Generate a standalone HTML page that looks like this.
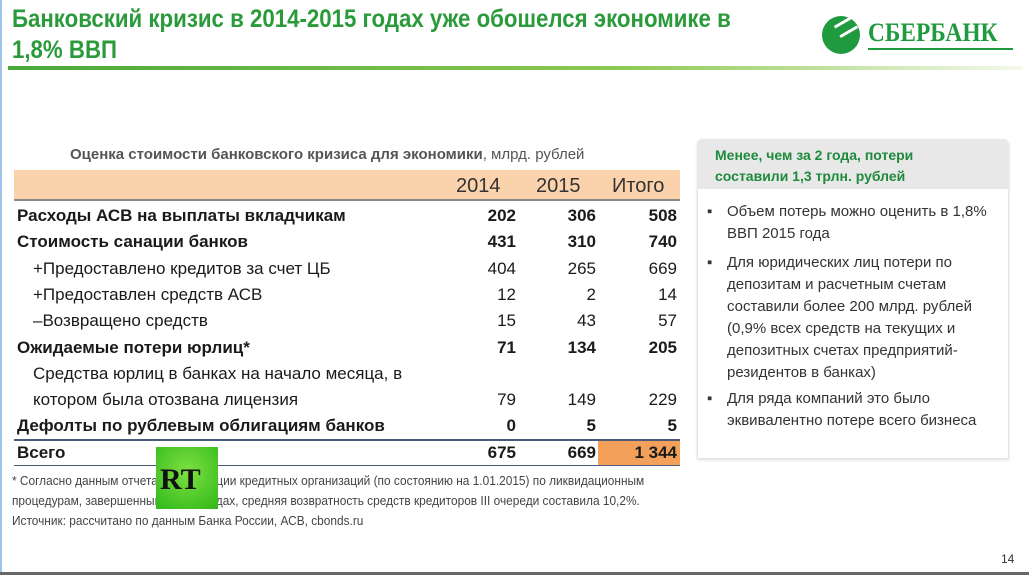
<!DOCTYPE html>
<html><head><meta charset="utf-8"><style>
*{margin:0;padding:0;box-sizing:border-box}
body{width:1029px;height:575px;background:#fff;position:relative;overflow:hidden;font-family:"Liberation Sans","Noto Sans CJK SC",sans-serif;color:#1a1a1a}
.a{position:absolute;white-space:nowrap}
.t{font-size:25px;font-weight:bold;color:#2a9a3a;transform:scaleX(0.89);transform-origin:left top;left:12px}
.row{position:absolute;left:14px;width:666px;height:26px;font-size:17px}
.row span{position:absolute;top:3px}
.b{font-weight:bold}
.n1{right:164px}.n2{right:84px}.n3{right:3px}
.r{font-size:15px;color:#333;line-height:22px}
</style></head><body>
<div style="position:absolute;left:0;top:0;width:2px;height:575px;background:#9ec3e8"></div>
<div style="position:absolute;left:0;bottom:0;width:1029px;height:3px;background:#666"></div>
<div class="a t" style="top:5px">Банковский кризис в 2014-2015 годах уже обошелся экономике в</div>
<div class="a t" style="top:36px">1,8% ВВП</div>
<div style="position:absolute;left:822px;top:16px;width:38px;height:38px;border-radius:50%;background:#1f9a3e"></div>
<div style="position:absolute;left:836px;top:20px;width:20px;height:14px;border-top:3px solid #fff;border-bottom:3px solid #fff;transform:rotate(-30deg)"></div>
<div class="a" style="left:868px;top:18px;font-family:'Liberation Serif',serif;font-weight:bold;font-size:26px;color:#1f9a3e;transform:scaleX(0.9);transform-origin:left top">СБЕРБАНК</div>
<div style="position:absolute;left:868px;top:48px;width:145px;height:2px;background:#1f9a3e"></div>
<div style="position:absolute;left:8px;top:66px;width:1015px;height:4px;background:linear-gradient(90deg,#4aa83a,#8cc850 60%,#f4f9ec)"></div>

<div class="a" style="left:70px;top:146px;font-size:15px;color:#555"><b>Оценка стоимости банковского кризиса для экономики</b>, млрд. рублей</div>
<div style="position:absolute;left:14px;top:170px;width:666px;height:31px;background:#fad3ac;border-bottom:2px solid #8a8a8a"></div>
<div class="a" style="left:456px;top:175px;font-size:20px;color:#333">2014</div>
<div class="a" style="left:536px;top:175px;font-size:20px;color:#333">2015</div>
<div class="a" style="left:612px;top:175px;font-size:20px;color:#333">Итого</div>

<div class="row b" style="top:203px"><span style="left:3px">Расходы АСВ на выплаты вкладчикам</span><span class="n1">202</span><span class="n2">306</span><span class="n3">508</span></div>
<div class="row b" style="top:229px"><span style="left:3px">Стоимость санации банков</span><span class="n1">431</span><span class="n2">310</span><span class="n3">740</span></div>
<div class="row" style="top:256px"><span style="left:19px">+Предоставлено кредитов за счет ЦБ</span><span class="n1">404</span><span class="n2">265</span><span class="n3">669</span></div>
<div class="row" style="top:282px"><span style="left:19px">+Предоставлен средств АСВ</span><span class="n1">12</span><span class="n2">2</span><span class="n3">14</span></div>
<div class="row" style="top:308px"><span style="left:19px">–Возвращено средств</span><span class="n1">15</span><span class="n2">43</span><span class="n3">57</span></div>
<div class="row b" style="top:335px"><span style="left:3px">Ожидаемые потери юрлиц*</span><span class="n1">71</span><span class="n2">134</span><span class="n3">205</span></div>
<div class="row" style="top:361px"><span style="left:19px">Средства юрлиц в банках на начало месяца, в</span></div>
<div class="row" style="top:387px"><span style="left:19px">котором была отозвана лицензия</span><span class="n1">79</span><span class="n2">149</span><span class="n3">229</span></div>
<div class="row b" style="top:413px"><span style="left:3px">Дефолты по рублевым облигациям банков</span><span class="n1">0</span><span class="n2">5</span><span class="n3">5</span></div>
<div style="position:absolute;left:14px;top:439px;width:666px;height:2px;background:#4a5a78"></div>
<div style="position:absolute;left:598px;top:441px;width:82px;height:24px;background:#f2a05a"></div>
<div class="row b" style="top:441px"><span style="left:3px;top:2px">Всего</span><span class="n1" style="top:2px">675</span><span class="n2" style="top:2px">669</span><span class="n3" style="top:2px">1 344</span></div>
<div style="position:absolute;left:14px;top:465px;width:666px;height:1px;background:#4a5a78"></div>

<div class="a" style="left:12px;top:471px;font-size:12.5px;color:#444;line-height:20px;transform:scaleX(0.95);transform-origin:left top">* Согласно данным отчета о ликвидации кредитных организаций (по состоянию на 1.01.2015) по ликвидационным<br>процедурам, завершенным в 2014 годах, средняя возвратность средств кредиторов III очереди составила 10,2%.<br>Источник: рассчитано по данным Банка России, АСВ, cbonds.ru</div>
<div style="position:absolute;left:156px;top:447px;width:62px;height:62px;background:radial-gradient(circle at 50% 40%,#7ee040,#2fb81a)"></div>
<div class="a" style="left:160px;top:463px;font-size:30px;font-weight:900;color:#111;font-family:'Liberation Serif',serif">RT</div>

<div style="position:absolute;left:697px;top:139px;width:312px;height:320px;border:1px solid #e4e4e4;box-shadow:0 1px 3px #ddd;border-radius:6px 6px 0 0;background:#fff"></div>
<div style="position:absolute;left:697px;top:139px;width:312px;height:50px;background:#e8e8e8;border-radius:6px 6px 0 0"></div>
<div class="a" style="left:715px;top:145px;font-size:14px;font-weight:bold;color:#1e8a3c;line-height:21px">Менее, чем за 2 года, потери<br>составили 1,3 трлн. рублей</div>
<div class="a r" style="left:707px;top:201px">▪</div>
<div class="a r" style="left:727px;top:201px">Объем потерь можно оценить в 1,8%<br>ВВП 2015 года</div>
<div class="a r" style="left:707px;top:252px">▪</div>
<div class="a r" style="left:727px;top:252px">Для юридических лиц потери по<br>депозитам и расчетным счетам<br>составили более 200 млрд. рублей<br>(0,9% всех средств на текущих и<br>депозитных счетах предприятий-<br>резидентов в банках)</div>
<div class="a r" style="left:707px;top:388px">▪</div>
<div class="a r" style="left:727px;top:388px">Для ряда компаний это было<br>эквивалентно потере всего бизнеса</div>
<div class="a" style="left:1001px;top:552px;font-size:12px;color:#333">14</div>
</body></html>
